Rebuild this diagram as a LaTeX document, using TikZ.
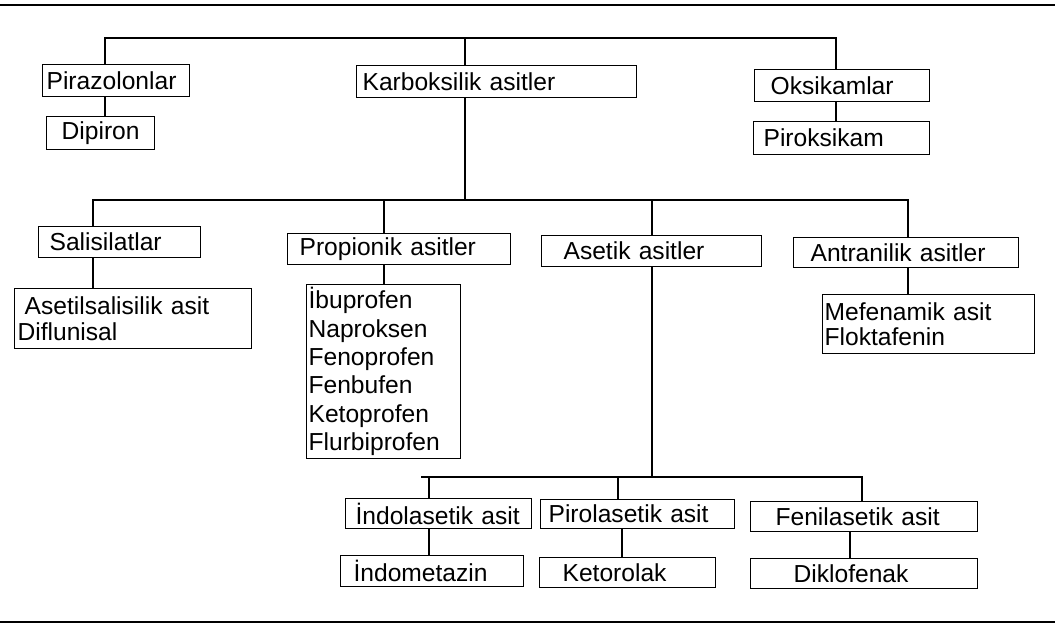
\documentclass[tikz,border=0pt]{standalone}
\usepackage{fontspec}
\setmainfont{Liberation Sans}

\begin{document}
\begin{tikzpicture}[
    x = 0.02cm, y = 0.02cm,
    font = \fontsize{14pt}{14.5pt}\selectfont,
    box/.style={
      draw,
      line width = 0.7pt,
      anchor = north west,
      align = left,
      inner ysep = 0pt,
    },
    link/.style={
      line width = 1.1pt,
    },
    rule/.style={
      line width = 1.6pt,
    },
  ]
  \useasboundingbox (0,0) rectangle (1055,631);
  \draw[rule] (0,626) -- (1055,626);
  \draw[rule] (0,9) -- (1055,9);

  % first level
  \node[box, text width = 2.78cm, inner xsep = 0.08cm, minimum height = 0.64cm]
    (piraz) at (42,567) {Pirazolonlar};
  \node[box, align = center, text width = 2.0cm, inner xsep = 0.08cm, minimum height = 0.66cm]
    (dipiron) at (46,515) {Dipiron};
  \node[box, text width = 5.36cm, inner xsep = 0.12cm, minimum height = 0.64cm]
    (karb) at (356,566) {Karboksilik asitler};
  \node[box, text width = 2.86cm, inner xsep = 0.32cm, minimum height = 0.64cm]
    (oksi) at (754,562) {Oksikamlar};
  \node[box, text width = 3.12cm, inner xsep = 0.2cm, minimum height = 0.66cm]
    (pirok) at (753,510) {Piroksikam};

  % carboxylic acid groups
  \node[box, text width = 2.8cm, inner xsep = 0.22cm, minimum height = 0.62cm]
    (sali) at (38,405) {Salisilatlar};
  \node[box, text width = 4.62cm, inner xsep = 0.06cm, minimum height = 1.2cm]
    (aset) at (14,343) {\hspace*{4pt}Asetilsalisilik asit\\Diflunisal};
  \node[box, text width = 3.98cm, inner xsep = 0.24cm, minimum height = 0.62cm]
    (prop) at (287,398) {Propionik asitler};
  \node[box, text width = 3.0cm, inner xsep = 0.04cm, minimum height = 3.48cm,
    font = \fontsize{14pt}{16.2pt}\selectfont]
    (list) at (306,347)
    {İbuprofen\\Naproksen\\Fenoprofen\\Fenbufen\\Ketoprofen\\Flurbiprofen};
  \node[box, text width = 3.52cm, inner xsep = 0.44cm, minimum height = 0.62cm]
    (asetik) at (541,396) {Asetik asitler};
  \node[box, text width = 3.82cm, inner xsep = 0.34cm, minimum height = 0.6cm]
    (antr) at (793,394) {Antranilik asitler};
  \node[box, text width = 4.16cm, inner xsep = 0.04cm, minimum height = 1.18cm]
    (mef) at (822,337) {Mefenamik asit\\Floktafenin};

  % acetic acid groups
  \node[box, text width = 3.32cm, inner xsep = 0.2cm, minimum height = 0.6cm]
    (indol) at (345,133) {İndolasetik asit};
  \node[box, text width = 3.56cm, inner xsep = 0.16cm, minimum height = 0.58cm]
    (pirol) at (540,132) {Pirolasetik asit};
  \node[box, text width = 3.54cm, inner xsep = 0.5cm, minimum height = 0.6cm]
    (fenil) at (750,130) {Fenilasetik asit};
  \node[box, text width = 3.14cm, inner xsep = 0.26cm, minimum height = 0.62cm]
    (indom) at (340,76) {İndometazin};
  \node[box, text width = 2.6cm, inner xsep = 0.46cm, minimum height = 0.6cm]
    (keto) at (539,74) {Ketorolak};
  \node[box, text width = 2.82cm, inner xsep = 0.86cm, minimum height = 0.6cm]
    (diklo) at (750,73) {Diklofenak};

  % branching points
  \coordinate (t1) at (105,593);
  \coordinate (t2) at (465,593);
  \coordinate (t3) at (836,593);
  \coordinate (m1) at (93,431);
  \coordinate (m2) at (384,431);
  \coordinate (m3) at (652,431);
  \coordinate (m4) at (908,431);
  \coordinate (b0) at (421,154);
  \coordinate (b1) at (429,154);
  \coordinate (b2) at (618,154);
  \coordinate (b3) at (862,154);
  \coordinate (k2) at (622,154);
  \coordinate (k3) at (850,154);

  \draw[link] (t1 |- piraz.north) -- (t1) -- (t3) -- (t3 |- oksi.north);
  \draw[link] (t2) -- (t2 |- karb.north);
  \draw[link] (t1 |- piraz.south) -- (t1 |- dipiron.north);
  \draw[link] (t3 |- oksi.south) -- (t3 |- pirok.north);
  \draw[link] (t2 |- karb.south) -- (t2 |- m1);

  \draw[link] (m1 |- sali.north) -- (m1) -- (m4) -- (m4 |- antr.north);
  \draw[link] (m2) -- (m2 |- prop.north);
  \draw[link] (m3) -- (m3 |- asetik.north);
  \draw[link] (m1 |- sali.south) -- (m1 |- aset.north);
  \draw[link] (m2 |- prop.south) -- (m2 |- list.north);
  \draw[link] (m4 |- antr.south) -- (m4 |- mef.north);
  \draw[link] (m3 |- asetik.south) -- (m3 |- b0);

  \draw[link] (b0) -- (b3) -- (b3 |- fenil.north);
  \draw[link] (b1) -- (b1 |- indol.north);
  \draw[link] (b2) -- (b2 |- pirol.north);
  \draw[link] (b1 |- indol.south) -- (b1 |- indom.north);
  \draw[link] (k2 |- pirol.south) -- (k2 |- keto.north);
  \draw[link] (k3 |- fenil.south) -- (k3 |- diklo.north);
\end{tikzpicture}
\end{document}
